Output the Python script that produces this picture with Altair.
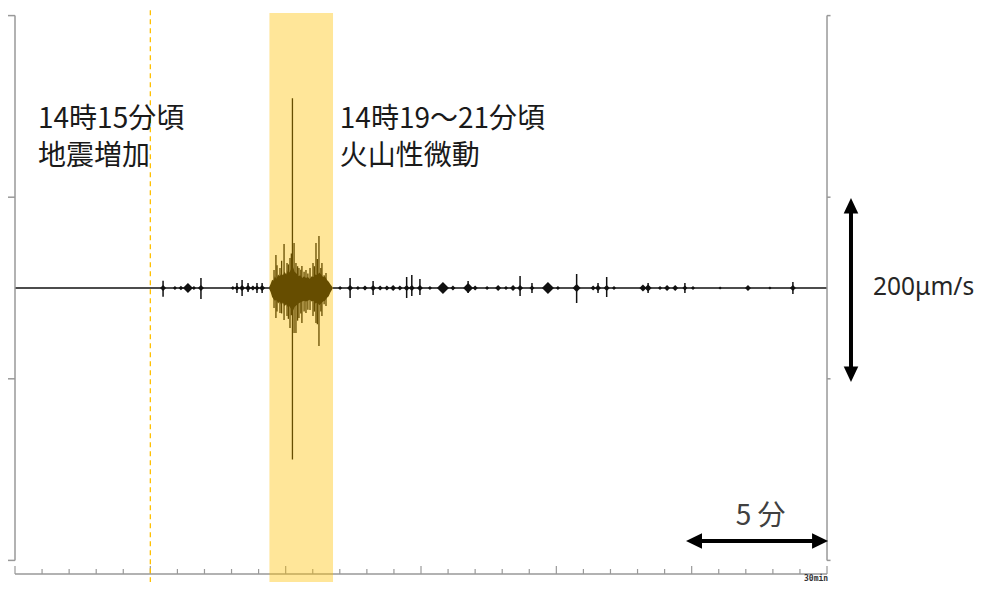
import altair as alt
import pandas as pd

# ---------------- data ----------------
# time axis: minutes after 14:10, amplitude: velocity in μm/s
minute_ticks = list(range(0, 31))
major_ticks = [0, 5, 10, 15, 20, 25, 30]
frame_ticks = [-300, -100, 100, 300]

# small bursts on the trace (diamond-shaped wave packets)
blob_t = [5.47, 5.91, 6.13, 6.39, 6.61, 6.87, 8.05, 8.20, 8.39, 8.61, 8.79, 8.94, 9.13,
          12.01, 12.38, 12.67, 12.93, 13.23, 13.49, 13.74, 13.97, 14.22, 14.47, 14.66,
          14.96, 15.33, 15.81, 16.18, 16.74, 17.00, 17.44, 17.85, 18.14, 18.40, 18.66,
          19.10, 19.69, 20.06, 20.75, 21.36, 21.54, 21.86, 22.13, 23.20, 23.39, 23.83,
          24.09, 24.39, 24.75, 25.05, 26.05, 27.08, 27.89, 28.74]
blob_amp = [3.3, 2.2, 2.5, 5.5, 2.2, 3.3, 2.2, 2.8, 3.3, 3.3, 2.8, 2.8, 3.3,
            2.2, 3.3, 2.2, 2.8, 3.3, 2.8, 2.8, 3.3, 2.8, 3.3, 3.3,
            3.3, 2.2, 6.6, 2.8, 5.5, 2.8, 2.2, 3.3, 2.2, 3.3, 3.3,
            2.8, 6.6, 2.2, 4.4, 2.8, 3.3, 3.3, 2.2, 3.9, 3.9, 2.2,
            3.3, 3.3, 2.8, 2.2, 1.7, 3.3, 1.7, 3.3]

# isolated earthquake spikes
spike_t = [5.47, 6.87, 8.20, 8.39, 8.61, 8.94, 9.13, 12.38, 13.23, 14.47, 14.66, 14.96,
           16.74, 18.66, 19.10, 20.75, 21.54, 21.86, 23.39, 24.75, 28.74]
spike_hi = [8.0, 11.0, 5.5, 8.8, 5.5, 5.5, 5.5, 11.0, 7.7, 12.1, 14.3, 9.9,
            7.7, 13.2, 5.5, 15.4, 5.5, 12.1, 5.5, 5.5, 6.6]
spike_lo = [-9.6, -12.1, -5.5, -8.8, -4.4, -5.5, -5.5, -11.0, -7.7, -11.0, -8.8, -7.7,
            -5.5, -8.8, -5.5, -16.5, -5.5, -9.9, -5.5, -5.5, -6.6]

# volcanic tremor: envelope
trem_t = [9.40, 9.45, 9.50, 9.55, 9.60, 9.66, 9.72, 9.78, 9.84, 9.90, 9.96, 10.02,
          10.08, 10.14, 10.20, 10.27, 10.33, 10.40, 10.47, 10.54, 10.61, 10.68, 10.75,
          10.82, 10.89, 10.96, 11.03, 11.10, 11.17, 11.24, 11.31, 11.38, 11.45, 11.52,
          11.59, 11.65, 11.72]
trem_hi = [1.5, 5, 9, 8, 13, 10, 15, 13, 16, 14, 18, 15,
           19, 17, 21, 23, 18, 16, 13, 14, 11, 13, 11,
           12, 10, 13, 12, 15, 14, 17, 15, 12, 13, 9,
           7, 4, 1.5]
trem_lo = [-1.5, -5, -10, -12, -14, -13, -17, -15, -19, -16, -20, -18,
           -21, -20, -23, -25, -21, -19, -17, -16, -15, -14, -15,
           -14, -13, -15, -14, -17, -16, -19, -17, -15, -14, -11,
           -9, -5, -1.5]

# volcanic tremor: spikes
tspk_t = [9.57, 9.64, 9.68, 9.79, 9.85, 9.94, 10.05, 10.10, 10.16, 10.21, 10.25, 10.31,
          10.38, 10.44, 10.49, 10.56, 10.60, 10.68, 10.75, 10.82, 10.90, 11.01, 11.06,
          11.12, 11.17, 11.23, 11.30, 11.34, 11.42, 11.49]
tspk_hi = [19.8, 36.3, 25.0, 22.0, 30.0, 48.4, 27.5, 26.0, 33.0, 38.0, 209.0, 49.5,
           27.5, 24.0, 22.0, 20.0, 24.2, 18.0, 19.8, 16.0, 22.0, 27.5, 24.0,
           49.5, 32.0, 57.2, 22.0, 27.5, 14.0, 16.5]
tspk_lo = [-22.0, -33.0, -26.0, -27.5, -28.0, -35.2, -30.8, -34.0, -44.0, -30.0, -189.0, -49.5,
           -49.5, -36.0, -33.0, -28.0, -38.5, -26.0, -27.5, -24.0, -24.2, -30.8, -26.0,
           -38.5, -40.0, -63.8, -26.0, -30.8, -18.0, -19.8]

quake_increase_t = 5.0       # 14:15
tremor_span = [9.4, 11.75]   # 14:19 - 14:21
scale_time = [25, 30]        # 5 min bar
scale_amp = [100, -100]      # 200 μm/s bar

# ---------------- geometry ----------------
W, H = 966, 574
X0_PX, PX_MIN = 7.0, 27.067
Y0_PX, PX_UNIT = 280.0, 0.908
x_dom = [-X0_PX / PX_MIN, (W - X0_PX) / PX_MIN]
y_dom = [-(H - Y0_PX) / PX_UNIT, Y0_PX / PX_UNIT]
XS = alt.Scale(domain=x_dom, nice=False, zero=False)
YS = alt.Scale(domain=y_dom, nice=False, zero=False)


def X(f):
    return alt.X(f, type="quantitative", scale=XS, axis=None)


def Y(f):
    return alt.Y(f, type="quantitative", scale=YS, axis=None)


FRAME = "#999999"
TOP_V, BOT_V = 303.0, y_dom[0] - 5
AXIS_V = -315.0

layers = []

# baseline of the trace
layers.append(alt.Chart(pd.DataFrame({"t": [0], "t2": [30], "v": [0]})).mark_rule(
    color="#111111", strokeWidth=1.7).encode(x=X("t"), x2="t2", y=Y("v")))

# bursts
layers.append(alt.Chart(pd.DataFrame({"t": blob_t, "amp": blob_amp, "v": 0})).mark_point(
    shape="diamond", filled=True, color="#111111", opacity=1, strokeWidth=0).encode(
    x=X("t"), y=Y("v"),
    size=alt.Size("amp:Q", scale=alt.Scale(type="pow", exponent=2, domain=[0, 10], range=[0, 330]),
                  legend=None)))

# spikes
layers.append(alt.Chart(pd.DataFrame({"t": spike_t, "hi": spike_hi, "lo": spike_lo})).mark_rule(
    color="#111111", strokeWidth=1.5).encode(x=X("t"), y=Y("hi"), y2="lo"))

# tremor
layers.append(alt.Chart(pd.DataFrame({"t": trem_t, "hi": trem_hi, "lo": trem_lo})).mark_area(
    color="#000000", opacity=1).encode(x=X("t"), y=Y("hi"), y2="lo"))
layers.append(alt.Chart(pd.DataFrame({"t": tspk_t, "hi": tspk_hi, "lo": tspk_lo})).mark_rule(
    color="#000000", strokeWidth=1.3).encode(x=X("t"), y=Y("hi"), y2="lo"))

# frame
layers.append(alt.Chart(pd.DataFrame({"t": [0, 30], "a": [-300, -300], "b": [300, 300]})).mark_rule(
    color=FRAME, strokeWidth=1.5).encode(x=X("t"), y=Y("a"), y2="b"))
layers.append(alt.Chart(pd.DataFrame({"v": frame_ticks, "t": 0.0, "t2": -X0_PX / PX_MIN})).mark_rule(
    color=FRAME, strokeWidth=1.5).encode(x=X("t"), x2="t2", y=Y("v")))
layers.append(alt.Chart(pd.DataFrame({"v": frame_ticks, "t": 30.0, "t2": 30.13})).mark_rule(
    color=FRAME, strokeWidth=1.5).encode(x=X("t"), x2="t2", y=Y("v")))

# time axis
layers.append(alt.Chart(pd.DataFrame({"t": [0], "t2": [30], "v": [AXIS_V]})).mark_rule(
    color=FRAME, strokeWidth=1.5).encode(x=X("t"), x2="t2", y=Y("v")))
tick_df = pd.DataFrame({"t": minute_ticks})
tick_df["v"] = AXIS_V
tick_df["v2"] = [AXIS_V + (8.8 if m in major_ticks else 5.5) for m in minute_ticks]
layers.append(alt.Chart(tick_df).mark_rule(color=FRAME, strokeWidth=1.2).encode(
    x=X("t"), y=Y("v"), y2="v2"))
layers.append(alt.Chart(pd.DataFrame({"t": [30.04], "v": [-320.5], "s": ["30min"]})).mark_text(
    align="right", baseline="middle", font="DejaVu Sans Mono", fontSize=8, fontWeight="bold",
    color="#333333").encode(x=X("t"), y=Y("v"), text="s:N"))

# highlight + dashed line
layers.append(alt.Chart(pd.DataFrame({"a": [tremor_span[0]], "b": [tremor_span[1]],
                                      "top": [TOP_V], "bot": [BOT_V]})).mark_rect(
    color="#FFC000", opacity=0.4).encode(x=X("a"), x2="b", y=Y("top"), y2="bot"))
layers.append(alt.Chart(pd.DataFrame({"t": [quake_increase_t], "top": [306.0], "bot": [BOT_V]})).mark_rule(
    color="#FFC000", strokeWidth=1.3, strokeDash=[5, 4]).encode(x=X("t"), y=Y("top"), y2="bot"))

# annotations
ann = pd.DataFrame({
    "t": [0.85, 0.85, 12.0, 12.0],
    "v": [185.0, 144.5, 185.0, 144.5],
    "s": ["14時15分頃", "地震増加", "14時19～21分頃", "火山性微動"],
})
layers.append(alt.Chart(ann).mark_text(
    align="left", baseline="middle", font="Noto Sans CJK JP", fontSize=28, color="#1a1a1a").encode(
    x=X("t"), y=Y("v"), text="s:N"))
layers.append(alt.Chart(pd.DataFrame({"t": [27.55], "v": [-252.5], "s": ["5 分"]})).mark_text(
    align="center", baseline="middle", font="Noto Sans CJK JP", fontSize=28, color="#404040").encode(
    x=X("t"), y=Y("v"), text="s:N"))
layers.append(alt.Chart(pd.DataFrame({"t": [31.70], "v": [0.0], "s": ["200μm/s"]})).mark_text(
    align="left", baseline="middle", font="Noto Sans", fontSize=24.5, color="#262626").encode(
    x=X("t"), y=Y("v"), text="s:N"))

# arrows
HA_V = -278.6
ha_l, ha_r = scale_time[0] - 0.21, scale_time[1] + 0.04
layers.append(alt.Chart(pd.DataFrame({"a": [ha_l + 0.4], "b": [ha_r - 0.4], "v": [HA_V]})).mark_rule(
    color="black", strokeWidth=4).encode(x=X("a"), x2="b", y=Y("v")))
layers.append(alt.Chart(pd.DataFrame({"t": [ha_l], "v": [HA_V]})).mark_point(
    shape="M0,0L1,-0.48L1,0.48Z", filled=True, color="black", opacity=1, size=1024, strokeWidth=0).encode(
    x=X("t"), y=Y("v")))
layers.append(alt.Chart(pd.DataFrame({"t": [ha_r], "v": [HA_V]})).mark_point(
    shape="M0,0L-1,-0.48L-1,0.48Z", filled=True, color="black", opacity=1, size=1024, strokeWidth=0).encode(
    x=X("t"), y=Y("v")))

VA_T = 30.886
va_top, va_bot = scale_amp[0] - 1.0, scale_amp[1] - 3.5
layers.append(alt.Chart(pd.DataFrame({"t": [VA_T], "a": [va_top - 10], "b": [va_bot + 10]})).mark_rule(
    color="black", strokeWidth=4).encode(x=X("t"), y=Y("a"), y2="b"))
layers.append(alt.Chart(pd.DataFrame({"t": [VA_T], "v": [va_top]})).mark_point(
    shape="M0,0L-0.47,1L0.47,1Z", filled=True, color="black", opacity=1, size=961, strokeWidth=0).encode(
    x=X("t"), y=Y("v")))
layers.append(alt.Chart(pd.DataFrame({"t": [VA_T], "v": [va_bot]})).mark_point(
    shape="M0,0L-0.47,-1L0.47,-1Z", filled=True, color="black", opacity=1, size=961, strokeWidth=0).encode(
    x=X("t"), y=Y("v")))

chart = alt.layer(*layers).properties(
    width=W, height=H,
    padding={"left": 0, "top": 0, "right": 0, "bottom": 0},
    autosize=alt.AutoSizeParams(type="none"),
    background="white",
).configure_view(stroke=None)

chart.save("out.html", embed_options={"renderer": "svg", "actions": False})
